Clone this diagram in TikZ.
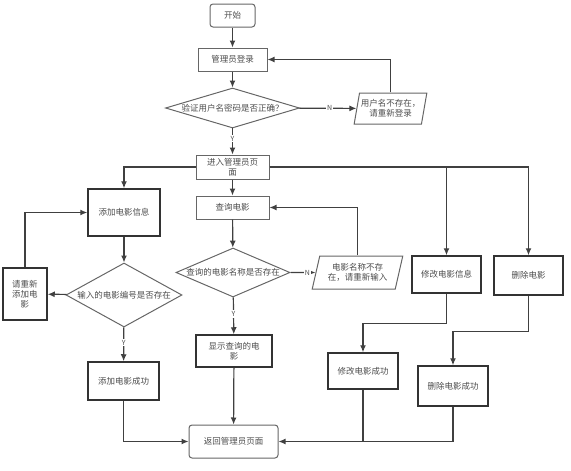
\documentclass[tikz,border=0pt]{standalone}
\usepackage{fontspec}
\setmainfont{Noto Sans CJK SC}
\usetikzlibrary{shapes.geometric,arrows.meta,positioning}

\begin{document}
\begin{tikzpicture}[x=1pt, y=-1pt,
    base/.style={draw=black!60, line width=1pt, text=black!70, inner sep=1pt, align=center, font=\fontsize{8.5}{10}\selectfont},
    startbox/.style={base, rectangle, rounded corners=3pt},
    procbox/.style={base, rectangle},
    boldbox/.style={base, rectangle, draw=black!80, line width=1.5pt},
    decision/.style={base, diamond, inner sep=0pt},
    iobox/.style={base, trapezium, trapezium stretches=true, trapezium left angle=75, trapezium right angle=105},
    arrow/.style={-{Latex[length=7pt,width=6pt]}, draw=black!75, line width=1.2pt},
    line/.style={draw=black!75, line width=1.2pt},
    yn/.style={fill=white, inner sep=1pt, text=black!70, font=\fontsize{7}{8}\selectfont}
]
\useasboundingbox (0,0) rectangle (571,471);

% Login part
\node[startbox, minimum width=45pt, minimum height=23pt] (kaishi) at (232.5,15.5) {开始};
\node[procbox, minimum width=69pt, minimum height=23pt] (denglu) at (232.5,59.5) {管理员登录};
\node[decision, minimum width=134pt, minimum height=40pt] (yanzheng) at (232.5,108) {\makebox[0pt]{验证用户名密码是否正确？}};
\node[iobox, minimum width=73pt, minimum height=31pt] (yonghu) at (390.5,108.5) {用户名不存在，\\请重新登录};

% Admin page
\node[procbox, minimum width=73pt, minimum height=24pt] (jinru) at (232.5,167) {进入管理员页\\面};

% Add movie
\node[boldbox, minimum width=72pt, minimum height=47pt] (xinxi) at (124,212.5) {添加电影信息};
\node[decision, minimum width=116pt, minimum height=64pt] (bianhao) at (124,295) {\makebox[0pt]{输入的电影编号是否存在}};
\node[boldbox, minimum width=44pt, minimum height=52pt] (chongxin) at (25,294) {请重新\\添加电\\影};
\node[boldbox, minimum width=71pt, minimum height=38pt] (tianjia) at (123.5,381) {添加电影成功};

% Query movie
\node[procbox, minimum width=73pt, minimum height=23pt] (chaxun) at (232.5,207.5) {查询电影};
\node[decision, minimum width=114pt, minimum height=49pt] (mingcheng) at (233,272.5) {\makebox[0pt]{查询的电影名称是否存在}};
\node[iobox, trapezium left angle=73, trapezium right angle=107, minimum width=91pt, minimum height=33pt] (bucunzai) at (357.5,272.5) {电影名称不存\\在，请重新输入};
\node[boldbox, minimum width=76pt, minimum height=32pt] (xianshi) at (234,351) {显示查询的电\\影};

% Modify and delete movie
\node[boldbox, minimum width=69pt, minimum height=37pt] (xiugai) at (446.5,274.5) {修改电影信息};
\node[boldbox, minimum width=69pt, minimum height=39pt] (shanchu) at (528.5,275.5) {删除电影};
\node[boldbox, minimum width=70pt, minimum height=36pt] (xiugaiok) at (363,371) {修改电影成功};
\node[boldbox, minimum width=70pt, minimum height=40pt] (shanchuok) at (453,386) {删除电影成功};

% Back
\node[startbox, minimum width=89pt, minimum height=33pt] (fanhui) at (233.5,441.5) {返回管理员页面};

% Connectors - login
\draw[arrow] (kaishi) -- (denglu);
\draw[arrow] (denglu) -- (yanzheng);
\draw[arrow] (yanzheng) -- node[yn, pos=0.53] {N} (yonghu);
\draw[arrow] (yonghu.north) |- (denglu.east);
\draw[arrow] (yanzheng) -- node[yn, pos=0.4] {Y} (jinru);

% Connectors - admin page
\draw[arrow] (jinru.west) -| (xinxi.north);
\draw[arrow] (jinru.east) -| (xiugai.north);
\draw[arrow] (jinru.east) -| (shanchu.north);
\draw[arrow] (jinru) -- (chaxun);

% Connectors - add
\draw[arrow] (xinxi) -- (bianhao);
\draw[arrow] (bianhao) -- (chongxin);
\draw[arrow] (chongxin.north) |- (xinxi.west);
\draw[arrow] (bianhao) -- node[yn, pos=0.45] {Y} (tianjia);
\draw[arrow] (tianjia.south) |- (fanhui.west);

% Connectors - query
\draw[arrow] (chaxun) -- (mingcheng);
\draw[arrow] (mingcheng) -- node[yn, pos=0.68] {N} (bucunzai);
\draw[arrow] (bucunzai.north) |- (chaxun.east);
\draw[arrow] (mingcheng) -- node[yn, pos=0.45] {Y} (xianshi);
\draw[arrow] (xianshi) -- (fanhui);

% Connectors - modify and delete
\draw[arrow] (xiugai.south) -- ++(0,30) -| (xiugaiok.north);
\draw[arrow] (shanchu.south) -- ++(0,36) -| (shanchuok.north);
\draw[arrow] (xiugaiok.south) |- (fanhui.east);
\draw[line] (shanchuok.south) |- (xiugaiok.south |- fanhui.east);

\end{tikzpicture}
\end{document}
